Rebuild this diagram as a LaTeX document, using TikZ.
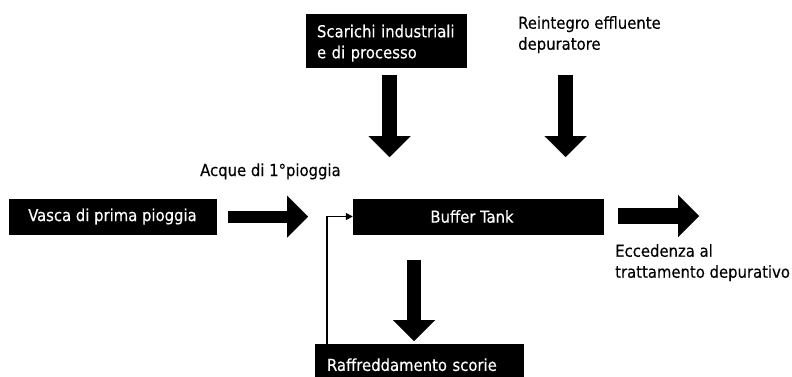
\documentclass[tikz,border=0pt]{standalone}
\usepackage{fontspec}
\setmainfont[FakeBold=0.3]{DejaVu Sans Condensed}
\usetikzlibrary{arrows.meta}
\begin{document}
\begin{tikzpicture}[x=1pt,y=-1pt,
  every node/.style={font=\fontsize{16.5}{21}\selectfont, inner sep=0pt},
  blk/.style={fill=black, text=white, draw=black},
  lbl/.style={text=black, align=left, anchor=north west},
  fat/.style={line width=#1, -{Triangle[width=42pt,length=21pt,line width=0.01pt]}},
  thin/.style={line width=1.5pt, -{Triangle[width=7pt,length=7pt]}}]
\useasboundingbox (0,0) rectangle (792,376);
% boxes
\node[blk, minimum width=207pt, minimum height=35pt] (vasca) at (112.5,216.5) {Vasca di prima pioggia};
\node[blk, minimum width=250pt, minimum height=35pt] (buf) at (478,216.5) {Buffer Tank\hspace*{12pt}};
\node[blk, minimum width=160pt, minimum height=53pt, text width=138pt, inner xsep=11pt, align=left] (scar) at (386,40.5) {\rule{0pt}{18pt}Scarichi industriali\\e di processo};
\node[blk, minimum width=208pt, minimum height=36pt, text width=184pt, inner xsep=12pt, align=left] (raff) at (419,362) {\rule{0pt}{18pt}Raffreddamento scorie};
% labels
\node[lbl, anchor=base west] (acque) at (200,176) {Acque di 1°pioggia};
\node[lbl] (rein) at (518,16) {Reintegro effluente\\depuratore};
\node[lbl] (ecc) at (615,244) {Eccedenza al\\trattamento depurativo};
% arrow end points
\coordinate (a1s) at (228,216.5);
\coordinate (a1t) at (308,216.5);
\coordinate (a2s) at (618,216);
\coordinate (a2t) at (699,216);
\coordinate (a3s) at (389.5,75);
\coordinate (a3t) at (389.5,157);
\coordinate (a4s) at (565.5,75);
\coordinate (a4t) at (565.5,157);
\coordinate (a5s) at (414,260);
\coordinate (a5t) at (414,341);
% block arrows
\draw[fat=12pt] (a1s) -- (a1t);
\draw[fat=16pt] (a2s) -- (a2t);
\draw[fat=15pt] (a3s) -- (a3t);
\draw[fat=15pt] (a4s) -- (a4t);
\draw[fat=14pt] (a5s) -- (a5t);
% thin return
\draw[thin] ([xshift=12pt]raff.north west) |- (buf.west);
\end{tikzpicture}
\end{document}
